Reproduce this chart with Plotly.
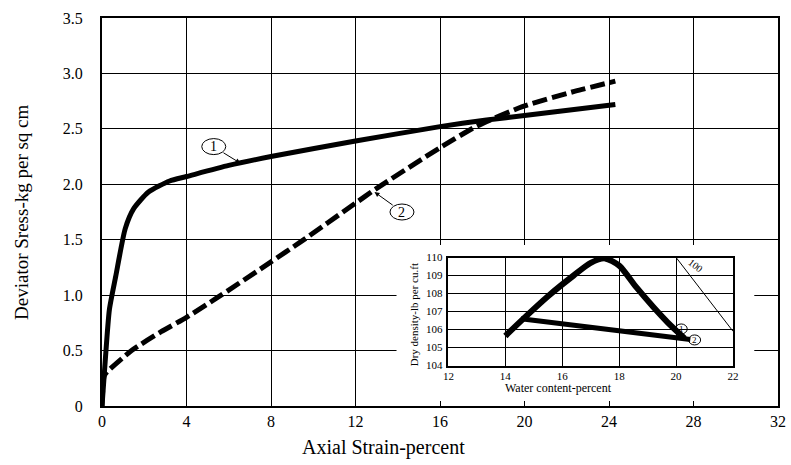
import plotly.graph_objects as go

# ---------------- data ----------------
# main chart: axial strain (%) vs deviator stress (kg/sq cm)
strain_1 = [0, 0.15, 0.35, 0.65, 1.1, 1.5, 2.2, 3.2, 4, 6, 8, 12, 16, 18.2, 20, 24.3]
stress_1 = [0, 0.40, 0.87, 1.17, 1.60, 1.78, 1.93, 2.03, 2.07, 2.17, 2.25, 2.39, 2.52, 2.58, 2.62, 2.72]

strain_2 = [0, 0.1, 0.25, 1.4, 2.8, 4, 5.4, 8, 9.4, 12, 12.9, 16, 17.7, 19.9, 22.4, 24.3]
stress_2 = [0, 0.27, 0.31, 0.50, 0.67, 0.80, 0.97, 1.30, 1.48, 1.83, 1.95, 2.33, 2.52, 2.70, 2.84, 2.93]

x_ticks = [0, 4, 8, 12, 16, 20, 24, 28, 32]
y_ticks = [0, 0.5, 1.0, 1.5, 2.0, 2.5, 3.0, 3.5]
y_tick_text = ["0", "0.5", "1.0", "1.5", "2.0", "2.5", "3.0", "3.5"]

# inset: water content (%) vs dry density (lb/cu ft)
water_curve = [14.0, 14.6, 15.5, 16.4, 17.0, 17.5, 18.0, 18.6, 19.2, 19.7, 20.3]
density_curve = [105.64, 106.55, 107.85, 109.0, 109.7, 109.95, 109.55, 108.35, 107.25, 106.4, 105.5]

water_line = [14.55, 16.4, 18.7, 20.5]
density_line = [106.6, 106.25, 105.85, 105.45]

sat_water = [20.0, 22.0]
sat_density = [110.0, 105.9]

inset_x_ticks = [12, 14, 16, 18, 20, 22]
inset_y_ticks = [104, 105, 106, 107, 108, 109, 110]

# ---------------- figure ----------------
SERIF = "Liberation Serif, Times New Roman, serif"
fig = go.Figure()

fig.add_trace(go.Scatter(x=strain_1, y=stress_1, mode="lines",
                         line=dict(color="black", width=5, shape="spline", smoothing=0.6),
                         showlegend=False, hoverinfo="skip"))
fig.add_trace(go.Scatter(x=strain_2, y=stress_2, mode="lines",
                         line=dict(color="black", width=5, dash="15px,5px", shape="spline", smoothing=0.6),
                         showlegend=False, hoverinfo="skip"))

# white patch behind the inset (hides main grid)
fig.add_trace(go.Scatter(x=[], y=[], xaxis="x2", yaxis="y2", showlegend=False))

# inset
fig.add_trace(go.Scatter(x=water_curve, y=density_curve, xaxis="x3", yaxis="y3", mode="lines",
                         line=dict(color="black", width=6, shape="spline", smoothing=0.7),
                         showlegend=False, hoverinfo="skip"))
fig.add_trace(go.Scatter(x=water_line, y=density_line, xaxis="x3", yaxis="y3", mode="lines",
                         line=dict(color="black", width=5),
                         showlegend=False, hoverinfo="skip"))
fig.add_trace(go.Scatter(x=sat_water, y=sat_density, xaxis="x3", yaxis="y3", mode="lines",
                         line=dict(color="black", width=1),
                         showlegend=False, hoverinfo="skip"))

W, H = 791, 465
L, R, T, B = 102, 5, 18, 59
pw, ph = W - L - R, H - T - B


def px2paper(px, py):
    return (px - L) / pw, (H - B - py) / ph


ix0, iy0 = px2paper(452.5, 365.5)
ix1, iy1 = px2paper(740.5, 257.5)
wx0, wy0 = px2paper(400, 401)
wx1, wy1 = px2paper(762, 245)

fig.update_layout(
    width=W, height=H,
    margin=dict(l=L, r=R, t=T, b=B),
    paper_bgcolor="white", plot_bgcolor="white",
    font=dict(family=SERIF, color="black", size=16),
    xaxis=dict(range=[0, 32], tickvals=x_ticks, showgrid=True, gridcolor="black", gridwidth=1,
               showline=True, linecolor="black", linewidth=2, mirror=True, zeroline=False,
               ticks="", tickfont=dict(size=16, family=SERIF), ticklabelstandoff=0),
    yaxis=dict(range=[0, 3.5], tickvals=y_ticks, ticktext=y_tick_text, showgrid=True,
               gridcolor="black", gridwidth=1, showline=True, linecolor="black", linewidth=2,
               mirror=True, zeroline=False, ticks="", tickfont=dict(size=16, family=SERIF),
               ticklabelstandoff=14),
    xaxis2=dict(domain=[wx0, wx1], anchor="y2", visible=False, range=[0, 1]),
    yaxis2=dict(domain=[wy0, wy1], anchor="x2", visible=False, range=[0, 1]),
    xaxis3=dict(domain=[ix0, ix1], anchor="y3", range=[12, 22], tickvals=inset_x_ticks,
                showgrid=True, gridcolor="black", gridwidth=1, showline=True, linecolor="black",
                linewidth=1.5, mirror=True, zeroline=False, ticks="",
                tickfont=dict(size=11, family=SERIF), ticklabelstandoff=0),
    yaxis3=dict(domain=[iy0, iy1], anchor="x3", range=[104, 110], tickvals=inset_y_ticks,
                showgrid=True, gridcolor="black", gridwidth=1, showline=True, linecolor="black",
                linewidth=1.5, mirror=True, zeroline=False, ticks="",
                tickfont=dict(size=11, family=SERIF), ticklabelstandoff=2),
)

ann = []
shapes = []


def title(px, py, text, size, angle=0):
    tx, ty = px2paper(px, py)
    ann.append(dict(x=tx, y=ty, xref="paper", yref="paper", text=text, textangle=angle,
                    xanchor="center", yanchor="middle", showarrow=False,
                    font=dict(size=size, family=SERIF)))


title(20, 212, "Deviator Sress-kg per sq cm", 19, -90)
title(387, 447, "Axial Strain-percent", 20)
title(564, 388, "Water content-percent", 12)
title(418, 315, "Dry density-lb per cu.ft", 11, -90)

# circled curve labels on main chart
labels = [("1", 5.29, 2.34, 6.55, 2.19), ("2", 14.2, 1.75, 12.9, 1.93)]
for txt, cx, cy, ax_, ay_ in labels:
    shapes.append(dict(type="circle", xref="x", yref="y", xsizemode="pixel", ysizemode="pixel",
                       xanchor=cx, yanchor=cy, x0=-12, x1=12, y0=-8, y1=8,
                       line=dict(color="black", width=1), fillcolor="white"))
    ann.append(dict(x=cx, y=cy, xref="x", yref="y", text=txt, showarrow=False,
                    xanchor="center", yanchor="middle", font=dict(size=14, family=SERIF)))
    dxp = (cx - ax_) * pw / 32
    dyp = -(cy - ay_) * ph / 3.5
    ann.append(dict(x=ax_, y=ay_, xref="x", yref="y", text="", showarrow=True,
                    ax=dxp, ay=dyp, arrowhead=2, arrowsize=1, arrowwidth=1,
                    arrowcolor="black", startstandoff=10))

# inset labels
ann.append(dict(x=20.68, y=109.55, xref="x3", yref="y3", text="100", textangle=38,
                xanchor="center", yanchor="middle", showarrow=False,
                font=dict(size=10, family=SERIF)))
for txt, cx, cy in [("1", 20.18, 106.03), ("2", 20.65, 105.42)]:
    shapes.append(dict(type="circle", xref="x3", yref="y3", xsizemode="pixel", ysizemode="pixel",
                       xanchor=cx, yanchor=cy, x0=-6, x1=6, y0=-5, y1=5,
                       line=dict(color="black", width=1)))
    ann.append(dict(x=cx, y=cy, xref="x3", yref="y3", text=txt, showarrow=False,
                    xanchor="center", yanchor="middle", font=dict(size=9, family=SERIF)))

fig.update_layout(annotations=ann, shapes=shapes)

fig.write_html("out.html")
